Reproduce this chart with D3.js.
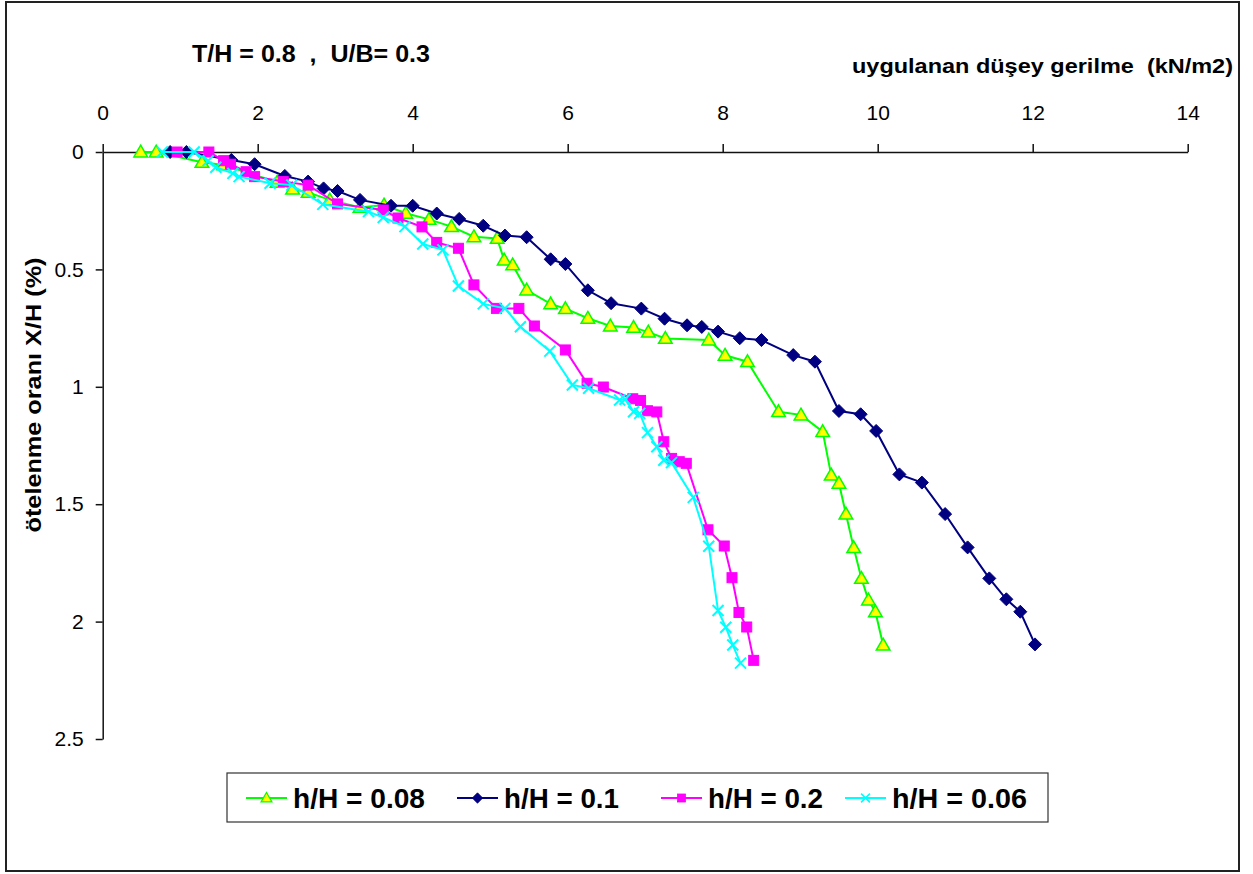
<!DOCTYPE html>
<html>
<head>
<meta charset="utf-8">
<script src="https://cdn.jsdelivr.net/npm/d3@7"></script>
<style>
  body { margin: 0; background: #fff; }
  text { font-family: "Liberation Sans", Arial, sans-serif; fill: #000; }
</style>
</head>
<body>
<div id="chart"></div>
<script>
// x: uygulanan düşey gerilme (kN/m2), y: ötelenme oranı X/H (%)
var xTicks = [0, 2, 4, 6, 8, 10, 12, 14];
var yTicks = [0, 0.5, 1, 1.5, 2, 2.5];

var names = ["h/H = 0.08", "h/H = 0.1", "h/H = 0.2", "h/H = 0.06"];

var x008 = [0.49,0.69,1.28,1.56,2.25,2.45,2.65,2.93,3.32,3.63,3.91,4.21,4.50,4.79,5.09,5.18,5.29,5.47,5.78,5.97,6.26,6.55,6.85,7.04,7.26,7.82,8.03,8.32,8.72,9.01,9.29,9.40,9.50,9.59,9.69,9.79,9.88,9.97,10.07];
var y008 = [0,0,0.044,0.055,0.129,0.158,0.172,0.204,0.236,0.226,0.261,0.287,0.318,0.361,0.368,0.46,0.481,0.588,0.647,0.667,0.708,0.741,0.747,0.767,0.794,0.801,0.866,0.893,1.106,1.12,1.191,1.376,1.411,1.542,1.685,1.816,1.908,1.958,2.10];

var x01 = [0.87,1.08,1.66,1.96,2.35,2.65,2.85,3.03,3.32,3.72,4.00,4.31,4.60,4.91,5.19,5.47,5.78,5.97,6.26,6.56,6.95,7.25,7.54,7.73,7.94,8.22,8.50,8.91,9.19,9.50,9.78,9.98,10.28,10.57,10.87,11.16,11.44,11.66,11.84,12.03];
var y01 = [0,0,0.034,0.052,0.102,0.126,0.155,0.166,0.204,0.229,0.229,0.262,0.285,0.314,0.356,0.363,0.457,0.477,0.589,0.644,0.667,0.710,0.738,0.745,0.765,0.793,0.801,0.865,0.893,1.103,1.117,1.188,1.373,1.408,1.542,1.684,1.816,1.905,1.958,2.097];

var x02 = [0.96,1.37,1.56,1.65,1.85,1.96,2.33,2.65,3.03,3.62,3.81,4.12,4.31,4.59,4.79,5.08,5.37,5.57,5.97,6.25,6.46,6.84,6.94,7.03,7.15,7.24,7.34,7.44,7.53,7.81,8.02,8.12,8.21,8.31,8.40];
var y02 = [0,0,0.037,0.052,0.084,0.105,0.126,0.141,0.221,0.247,0.281,0.319,0.385,0.410,0.566,0.666,0.666,0.741,0.843,0.985,1.001,1.051,1.058,1.102,1.107,1.234,1.305,1.319,1.326,1.609,1.678,1.813,1.961,2.023,2.165];

var x006 = [0.77,1.18,1.36,1.46,1.68,1.76,2.16,2.44,2.84,3.43,3.62,3.90,4.13,4.39,4.59,4.91,5.19,5.39,5.77,6.06,6.27,6.67,6.74,6.85,6.93,7.03,7.15,7.24,7.34,7.62,7.82,7.94,8.04,8.13,8.23];
var y006 = [0,0,0.037,0.065,0.091,0.105,0.133,0.141,0.223,0.254,0.279,0.318,0.392,0.417,0.571,0.647,0.666,0.744,0.848,0.992,1.006,1.056,1.053,1.106,1.113,1.195,1.255,1.313,1.323,1.471,1.679,1.953,2.024,2.100,2.177];

var series = [
  {name: names[0], xs: x008, ys: y008, line: "#00ff00", marker: "triangle", fill: "#ffff00", stroke: "#00ff00"},
  {name: names[1], xs: x01,  ys: y01,  line: "#000080", marker: "diamond",  fill: "#000080", stroke: "#000080"},
  {name: names[2], xs: x02,  ys: y02,  line: "#ff00ff", marker: "square",   fill: "#ff00ff", stroke: "#ff00ff"},
  {name: names[3], xs: x006, ys: y006, line: "#00ffff", marker: "cross",    fill: "none",    stroke: "#00ffff"}
];

var width = 1253, height = 874;
var plot = {left: 102.7, right: 1187.7, top: 152, bottom: 739};

var svg = d3.select("#chart").append("svg")
    .attr("width", width)
    .attr("height", height);

// outer frame
svg.append("rect")
    .attr("x", 6).attr("y", 2)
    .attr("width", 1233).attr("height", 869)
    .attr("fill", "#fff")
    .attr("stroke", "#222")
    .attr("stroke-width", 2);

var x = d3.scaleLinear().domain([0, 14]).range([plot.left, plot.right]);
var y = d3.scaleLinear().domain([0, 2.5]).range([plot.top, plot.bottom]);

// x axis on top
var gx = svg.append("g")
    .attr("transform", "translate(0," + plot.top + ")")
    .call(d3.axisTop(x).tickValues(xTicks).tickSize(8).tickSizeOuter(0).tickPadding(24).tickFormat(d3.format("d")));
gx.selectAll("text").style("font-size", "21px").attr("font-family", null);

var gy = svg.append("g")
    .attr("transform", "translate(" + plot.left + ",0)")
    .call(d3.axisLeft(y).tickValues(yTicks).tickSize(7).tickSizeOuter(0).tickPadding(12).tickFormat(function(d){ return String(d); }));
gy.selectAll("text").style("font-size", "21px").attr("font-family", null);

svg.selectAll(".domain, .tick line").attr("stroke", "#111").attr("stroke-width", 1.5);

// titles
svg.append("text")
    .attr("x", 192).attr("y", 62)
    .style("white-space", "pre")
    .style("font-size", "23px").style("font-weight", "bold")
    .attr("textLength", 238).attr("lengthAdjust", "spacingAndGlyphs")
    .text("T/H = 0.8  ,  U/B= 0.3");

svg.append("text")
    .attr("x", 852).attr("y", 73)
    .style("white-space", "pre")
    .style("font-size", "21px").style("font-weight", "bold")
    .attr("textLength", 381).attr("lengthAdjust", "spacingAndGlyphs")
    .text("uygulanan düşey gerilme  (kN/m2)");

svg.append("text")
    .attr("transform", "translate(41,395) rotate(-90)")
    .attr("text-anchor", "middle")
    .style("font-size", "22px").style("font-weight", "bold")
    .attr("textLength", 275).attr("lengthAdjust", "spacingAndGlyphs")
    .text("ötelenme oranı X/H (%)");

// marker drawing
function drawMarker(g, type, s) {
  if (type === "triangle") {
    g.append("path")
      .attr("d", d3.symbol().type(d3.symbolTriangle).size(80)())
      .attr("transform", "translate(0,1)")
      .attr("fill", s.fill).attr("stroke", s.stroke).attr("stroke-width", 1.5);
  } else if (type === "diamond") {
    g.append("path")
      .attr("d", "M0,-6.5L6.5,0L0,6.5L-6.5,0Z")
      .attr("fill", s.fill).attr("stroke", s.stroke).attr("stroke-width", 1);
  } else if (type === "square") {
    g.append("rect")
      .attr("x", -5).attr("y", -5).attr("width", 10).attr("height", 10)
      .attr("fill", s.fill).attr("stroke", s.stroke).attr("stroke-width", 1);
  } else {
    g.append("path")
      .attr("d", "M-5.5,-5.5L5.5,5.5M-5.5,5.5L5.5,-5.5")
      .attr("fill", "none").attr("stroke", s.stroke).attr("stroke-width", 2);
  }
}

var line = d3.line()
    .x(function(d) { return x(d[0]); })
    .y(function(d) { return y(d[1]); });

series.forEach(function(s) {
  var pts = s.xs.map(function(v, i) { return [v, s.ys[i]]; });
  var g = svg.append("g");
  g.append("path")
    .datum(pts)
    .attr("d", line)
    .attr("fill", "none")
    .attr("stroke", s.line)
    .attr("stroke-width", 2);
  g.selectAll("g.pt")
    .data(pts)
    .enter().append("g")
    .attr("class", "pt")
    .attr("transform", function(d) { return "translate(" + x(d[0]) + "," + y(d[1]) + ")"; })
    .each(function() { drawMarker(d3.select(this), s.marker, s); });
});

// legend
var legend = svg.append("g");
legend.append("rect")
    .attr("x", 227).attr("y", 773)
    .attr("width", 821).attr("height", 49)
    .attr("fill", "#fff").attr("stroke", "#333").attr("stroke-width", 1.2);

var legendX = [246, 457, 661, 845];
var legendTextW = [132, 115, 115, 135];
series.forEach(function(s, i) {
  var lg = legend.append("g").attr("transform", "translate(" + legendX[i] + ",798)");
  lg.append("line")
    .attr("x1", 0).attr("x2", 41)
    .attr("stroke", s.line).attr("stroke-width", 2);
  var m = lg.append("g").attr("transform", "translate(20.5,0) scale(0.8)");
  drawMarker(m, s.marker, s);
  lg.append("text")
    .attr("x", 47).attr("y", 10)
    .style("font-size", "27px").style("font-weight", "bold")
    .attr("textLength", legendTextW[i]).attr("lengthAdjust", "spacingAndGlyphs")
    .text(s.name);
});
</script>
</body>
</html>
